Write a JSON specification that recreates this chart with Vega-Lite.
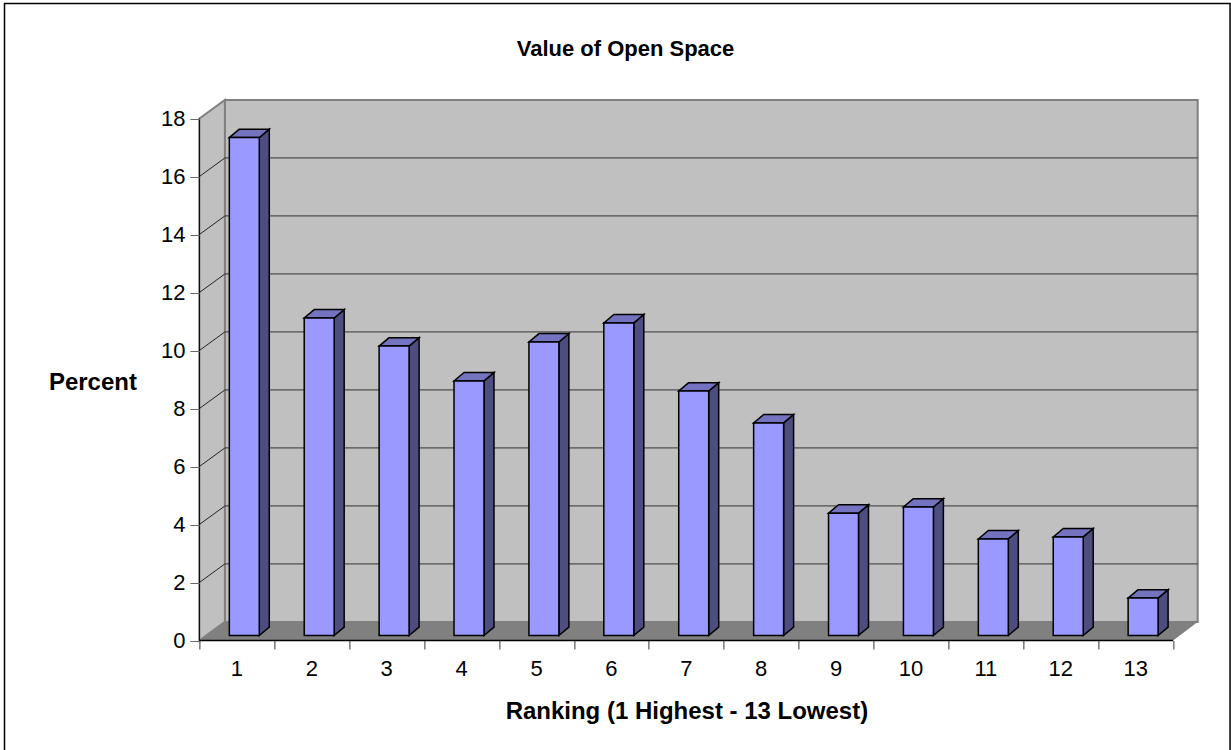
{
"$schema":"https://vega.github.io/schema/vega-lite/v6.json",
"width":998.3,"height":540.5,
"autosize":{"type":"none"},
"padding":{"left":199.4,"top":100,"right":33,"bottom":109},
"background":"white",
"view":{"stroke":null},
"title":{"text":"Value of Open Space","anchor":"middle","frame":"group","dx":-73,"offset":-58,"font":"Liberation Sans","fontSize":22,"fontWeight":"bold","color":"black"},
"encoding":{
 "x":{"type":"quantitative","scale":{"domain":[0.5,13.828],"nice":false,"zero":false},
  "axis":{"orient":"bottom","zindex":1,"values":[0.5,1.5,2.5,3.5,4.5,5.5,6.5,7.5,8.5,9.5,10.5,11.5,12.5,13.5],"domain":false,"grid":false,"tickSize":8.5,"tickColor":"#333333","labelExpr":"datum.value<13 ? format(datum.value+0.5,'d') : ''","labelOffset":37,"labelFlush":false,"labelOverlap":false,"labelBound":false,"labelPadding":10,"labelFont":"Liberation Sans","labelFontSize":22,"labelColor":"black","title":"Ranking (1 Highest - 13 Lowest)","titleFont":"Liberation Sans","titleFontSize":24,"titleFontWeight":"bold","titleColor":"black","titleX":487,"titleY":78,"titleBaseline":"alphabetic","titleAlign":"center"}},
 "y":{"type":"quantitative","scale":{"domain":[0,18.638],"nice":false,"zero":false},
  "axis":{"orient":"left","zindex":1,"values":[0,2,4,6,8,10,12,14,16,18],"domain":false,"grid":false,"tickSize":9.5,"tickColor":"#666666","labelPadding":5,"labelFont":"Liberation Sans","labelFontSize":22,"labelColor":"black","title":"Percent","titleFont":"Liberation Sans","titleFontSize":24,"titleFontWeight":"bold","titleColor":"black","titleAngle":0,"titleAlign":"center","titleBaseline":"alphabetic","titleX":-107,"titleY":290}}
},
"datasets":{
"bars":[{"rank":1,"percent":17.17},{"rank":2,"percent":10.95},{"rank":3,"percent":9.98},{"rank":4,"percent":8.78},{"rank":5,"percent":10.12},{"rank":6,"percent":10.78},{"rank":7,"percent":8.43},{"rank":8,"percent":7.33},{"rank":9,"percent":4.22},{"rank":10,"percent":4.43},{"rank":11,"percent":3.33},{"rank":12,"percent":3.4},{"rank":13,"percent":1.29}],
"grid":[{"tick":2},{"tick":4},{"tick":6},{"tick":8},{"tick":10},{"tick":12},{"tick":14},{"tick":16}]
},
"layer":[
{"data":{"values":[{"a":-2.102,"b":14.26,"lo":-3.9,"hi":21.966}]},"mark":{"type":"rect","fill":null,"stroke":"black","strokeWidth":1.5,"clip":false},
 "encoding":{"x":{"field":"a"},"x2":{"field":"b"},"y":{"field":"lo"},"y2":{"field":"hi"}}},
{"data":{"values":[{"a":0.8405,"b":13.828,"lo":0.641,"hi":18.638}]},"mark":{"type":"rect","fill":"#C0C0C0","stroke":"#808080","strokeWidth":2},
 "encoding":{"x":{"field":"a"},"x2":{"field":"b"},"y":{"field":"lo"},"y2":{"field":"hi"}}},
{"data":{"values":[{"x":0.5,"lo":0,"hi":18},{"x":0.8405,"lo":0.641,"hi":18.638}]},
 "mark":{"type":"area","fill":"#C0C0C0","stroke":"#808080","strokeWidth":2,"opacity":1},
 "encoding":{"x":{"field":"x"},"y":{"field":"hi"},"y2":{"field":"lo"}}},
{"data":{"values":[{"y":0,"a":0.5,"b":13.5},{"y":0.641,"a":0.8405,"b":13.828}]},
 "mark":{"type":"area","orient":"horizontal","fill":"#808080","opacity":1},
 "encoding":{"y":{"field":"y"},"x":{"field":"a"},"x2":{"field":"b"}}},
{"data":{"name":"grid"},
 "transform":[{"calculate":"datum.tick+0.641","as":"back"},{"calculate":"0.8405","as":"a"},{"calculate":"13.828","as":"b"}],
 "mark":{"type":"rule","stroke":"#333333","strokeWidth":1},
 "encoding":{"x":{"field":"a"},"x2":{"field":"b"},"y":{"field":"back"}}},
{"data":{"name":"grid"},
 "transform":[{"calculate":"[0,1]","as":"t"},{"flatten":["t"]},{"calculate":"0.5+datum.t*0.3405","as":"px"},{"calculate":"datum.tick+datum.t*0.641","as":"py"}],
 "mark":{"type":"line","stroke":"#222222","strokeWidth":1},
 "encoding":{"x":{"field":"px"},"y":{"field":"py"},"detail":{"field":"tick"}}},
{"data":{"name":"bars"},
 "transform":[{"calculate":"[0,1]","as":"t"},{"flatten":["t"]},{"calculate":"datum.rank+0.2995+datum.t*0.1335","as":"px"},{"calculate":"datum.percent+0.172+datum.t*0.29","as":"hi"},{"calculate":"0.172+datum.t*0.29","as":"lo"}],
 "mark":{"type":"area","fill":"#4D4D80","stroke":"black","strokeWidth":1.5,"opacity":1},
 "encoding":{"x":{"field":"px"},"y":{"field":"hi"},"y2":{"field":"lo"},"detail":{"field":"rank"}}},
{"data":{"name":"bars"},
 "transform":[{"calculate":"[0,1]","as":"t"},{"flatten":["t"]},{"calculate":"datum.rank-0.1005+datum.t*0.1335","as":"pa"},{"calculate":"datum.rank+0.2995+datum.t*0.1335","as":"pb"},{"calculate":"datum.percent+0.172+datum.t*0.29","as":"py"}],
 "mark":{"type":"area","orient":"horizontal","fill":"#7373BF","stroke":"black","strokeWidth":1.5,"opacity":1},
 "encoding":{"y":{"field":"py"},"x":{"field":"pa"},"x2":{"field":"pb"},"detail":{"field":"rank"}}},
{"data":{"name":"bars"},
 "transform":[{"calculate":"datum.rank-0.1005","as":"pa"},{"calculate":"datum.rank+0.2995","as":"pb"},{"calculate":"datum.percent+0.172","as":"hi"},{"calculate":"0.172","as":"lo"}],
 "mark":{"type":"rect","fill":"#9999FF","stroke":"black","strokeWidth":1.5},
 "encoding":{"x":{"field":"pa"},"x2":{"field":"pb"},"y":{"field":"hi"},"y2":{"field":"lo"}}},
{"data":{"values":[{"a":0.5,"b":13.5,"lo":0}]},"mark":{"type":"rule","stroke":"black","strokeWidth":1.5},
 "encoding":{"x":{"field":"a"},"x2":{"field":"b"},"y":{"field":"lo"}}},
{"data":{"values":[{"a":0.5,"lo":0,"hi":18}]},"mark":{"type":"rule","stroke":"black","strokeWidth":1},
 "encoding":{"x":{"field":"a"},"y":{"field":"lo"},"y2":{"field":"hi"}}}
]
}
